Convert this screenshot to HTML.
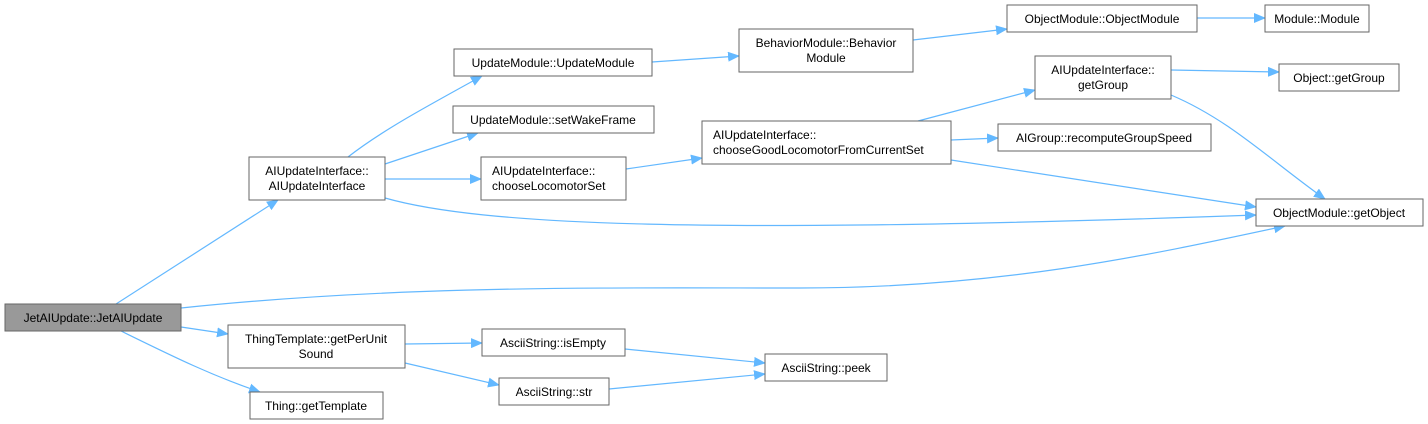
<!DOCTYPE html>
<html><head><meta charset="utf-8"><style>
body{margin:0;background:#fff;}
svg{display:block;font-family:"Liberation Sans",Arial,sans-serif;font-size:12px;}
rect{stroke:#666;stroke-width:1;fill:#fff;}
.e{fill:none;stroke:#63b8ff;stroke-width:1.2;}
</style></head><body>
<svg width="1428" height="424" viewBox="0 0 1428 424" xmlns="http://www.w3.org/2000/svg">
<defs><marker id="a" markerWidth="12" markerHeight="10" refX="11" refY="5" orient="auto" markerUnits="userSpaceOnUse"><path d="M0,0 L12,5 L0,10 z" fill="#63b8ff"/></marker></defs>
<g class="e" marker-end="url(#a)">
<path d="M116,304 L278,200"/>
<path d="M181,308 C400,285 600,288 800,288 C1000,288 1150,255 1285,226"/>
<path d="M181,327 L228,334"/>
<path d="M121,331 C170,355 210,375 260,392"/>
<path d="M348,157 C380,132 420,110 482,76"/>
<path d="M385,164 L478,133"/>
<path d="M385,179 L481,179"/>
<path d="M385,198 C480,225 700,235 1256,215"/>
<path d="M652,62 L739,56"/>
<path d="M913,40 L1007,29"/>
<path d="M1197,18 L1265,18"/>
<path d="M626,169 L702,158"/>
<path d="M918,121 L1035,90"/>
<path d="M951,140 L998,138"/>
<path d="M951,160 L1256,207"/>
<path d="M1171,70 L1279,72"/>
<path d="M1171,95 C1230,120 1270,160 1325,199"/>
<path d="M405,344 L482,343"/>
<path d="M405,363 L499,385"/>
<path d="M625,349 L765,363"/>
<path d="M609,389 L765,374"/>
</g>
<rect x="5" y="304" width="176" height="27" style="fill:#999"/><text x="93" y="322" text-anchor="middle">JetAIUpdate::JetAIUpdate</text>
<rect x="249" y="157" width="136" height="43"/><text x="317" y="175" text-anchor="middle">AIUpdateInterface::</text><text x="317" y="190" text-anchor="middle">AIUpdateInterface</text>
<rect x="228" y="325" width="177" height="43"/><text x="316" y="343" text-anchor="middle">ThingTemplate::getPerUnit</text><text x="316" y="358" text-anchor="middle">Sound</text>
<rect x="250" y="392" width="133" height="27"/><text x="316" y="410" text-anchor="middle">Thing::getTemplate</text>
<rect x="454" y="49" width="198" height="27"/><text x="553" y="67" text-anchor="middle">UpdateModule::UpdateModule</text>
<rect x="453" y="106" width="201" height="27"/><text x="553" y="124" text-anchor="middle">UpdateModule::setWakeFrame</text>
<rect x="481" y="157" width="145" height="43"/><text x="492" y="175">AIUpdateInterface::</text><text x="492" y="190">chooseLocomotorSet</text>
<rect x="739" y="29" width="174" height="43"/><text x="826" y="47" text-anchor="middle">BehaviorModule::Behavior</text><text x="826" y="62" text-anchor="middle">Module</text>
<rect x="702" y="121" width="249" height="43"/><text x="713" y="139">AIUpdateInterface::</text><text x="713" y="154">chooseGoodLocomotorFromCurrentSet</text>
<rect x="1007" y="5" width="190" height="27"/><text x="1102" y="23" text-anchor="middle">ObjectModule::ObjectModule</text>
<rect x="1265" y="5" width="104" height="27"/><text x="1317" y="23" text-anchor="middle">Module::Module</text>
<rect x="1035" y="56" width="136" height="43"/><text x="1103" y="74" text-anchor="middle">AIUpdateInterface::</text><text x="1103" y="89" text-anchor="middle">getGroup</text>
<rect x="1279" y="64" width="120" height="27"/><text x="1339" y="82" text-anchor="middle">Object::getGroup</text>
<rect x="998" y="124" width="213" height="27"/><text x="1104" y="142" text-anchor="middle">AIGroup::recomputeGroupSpeed</text>
<rect x="1256" y="199" width="167" height="27"/><text x="1339" y="217" text-anchor="middle">ObjectModule::getObject</text>
<rect x="482" y="329" width="143" height="27"/><text x="553" y="347" text-anchor="middle">AsciiString::isEmpty</text>
<rect x="499" y="378" width="110" height="27"/><text x="554" y="396" text-anchor="middle">AsciiString::str</text>
<rect x="765" y="354" width="122" height="27"/><text x="826" y="372" text-anchor="middle">AsciiString::peek</text>
</svg>
</body></html>
